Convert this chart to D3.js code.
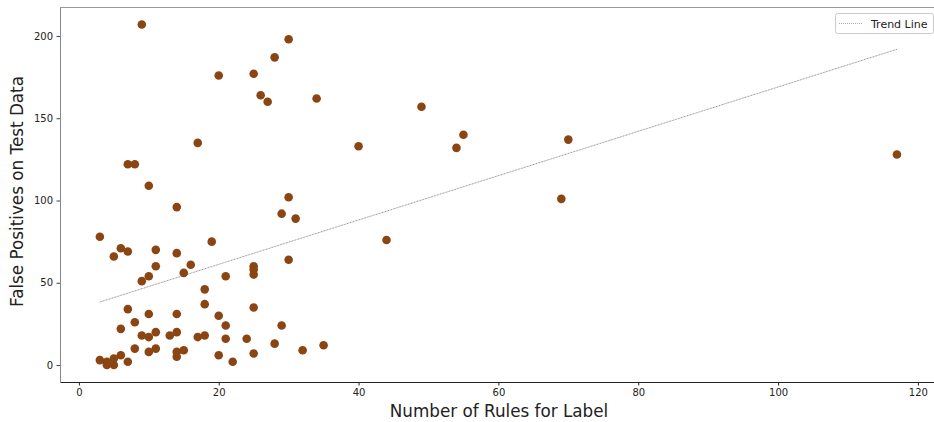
<!DOCTYPE html>
<html>
<head>
<meta charset="utf-8">
<script src="https://cdn.jsdelivr.net/npm/d3@7"></script>
<style>
  body { margin: 0; background: #fff; }
  svg { font-family: "DejaVu Sans", sans-serif; }
</style>
</head>
<body>
<svg id="chart" width="934" height="422"></svg>
<script>
// rules per label (x) and false positives (y)
const rules = [9, 30, 28, 20, 25, 26, 27, 34, 49, 17, 55, 54, 40, 70, 117,
  7, 8, 10, 69, 30, 14, 29, 31, 3, 44, 19, 6, 11, 7, 14, 5, 16, 11, 25, 25, 25,
  30, 15, 10, 21, 9, 18, 18, 7, 25, 14, 10, 20, 8, 21, 29, 6, 11, 14, 9, 13, 18,
  10, 17, 21, 24, 8, 11, 28, 35, 10, 14, 15, 32, 14, 20, 25, 6, 3, 5, 7, 22, 4, 5, 4];
const falsePos = [207, 198, 187, 176, 177, 164, 160, 162, 157, 135, 140, 132, 133, 137, 128,
  122, 122, 109, 101, 102, 96, 92, 89, 78, 76, 75, 71, 70, 69, 68, 66, 61, 60, 60, 58, 55,
  64, 56, 54, 54, 51, 46, 37, 34, 35, 31, 31, 30, 26, 24, 24, 22, 20, 20, 18, 18, 18,
  17, 17, 16, 16, 10, 10, 13, 12, 8, 8, 9, 9, 5, 6, 7, 6, 3, 4, 2, 2, 2, 0, 0];

// trend line end points as drawn
const trendX = [3, 117];
const trendY = [38.3, 191.9];

const xTicks = [0, 20, 40, 60, 80, 100, 120];
const yTicks = [0, 50, 100, 150, 200];

const svg = d3.select("#chart"),
    margin = {top: 7, right: 0, bottom: 40, left: 60},
    width = +svg.attr("width"),
    height = +svg.attr("height");

const x = d3.scaleLinear().domain([-2.7, 122.3]).range([margin.left, width - margin.right]);
const y = d3.scaleLinear().domain([-10.3, 217.6]).range([height - margin.bottom, margin.top]);

const points = rules.map(function(d, i) { return {x: d, y: falsePos[i]}; });

// x axis
const xAxis = svg.append("g")
    .attr("transform", `translate(0,${height - margin.bottom})`)
    .call(d3.axisBottom(x).tickValues(xTicks).tickSize(3.5).tickSizeOuter(0).tickPadding(3.5));
xAxis.select(".domain").attr("stroke", "#222").attr("stroke-width", 1);
xAxis.selectAll(".tick line").attr("stroke", "#222");
xAxis.selectAll("text").attr("font-size", 10).attr("fill", "#222").attr("font-family", "DejaVu Sans");

// y axis
const yAxis = svg.append("g")
    .attr("transform", `translate(${margin.left},0)`)
    .call(d3.axisLeft(y).tickValues(yTicks).tickSize(3.5).tickSizeOuter(0).tickPadding(3.5));
yAxis.select(".domain").attr("stroke", "#888").attr("stroke-width", 1);
yAxis.selectAll(".tick line").attr("stroke", "#444");
yAxis.selectAll("text").attr("font-size", 10).attr("fill", "#222").attr("font-family", "DejaVu Sans");

// top spine
svg.append("line")
    .attr("x1", margin.left).attr("x2", width)
    .attr("y1", margin.top + 0.5).attr("y2", margin.top + 0.5)
    .attr("stroke", "#999").attr("stroke-width", 1.2);

// axis titles
svg.append("text")
    .attr("x", (margin.left + width) / 2 + 2)
    .attr("y", 417)
    .attr("text-anchor", "middle")
    .attr("font-size", 16.8)
    .attr("fill", "#222")
    .text("Number of Rules for Label");

svg.append("text")
    .attr("transform", `translate(23,${(margin.top + height - margin.bottom) / 2 - 3}) rotate(-90)`)
    .attr("text-anchor", "middle")
    .attr("font-size", 16.8)
    .attr("fill", "#222")
    .text("False Positives on Test Data");

// trend line
svg.append("line")
    .attr("x1", x(trendX[0])).attr("y1", y(trendY[0]))
    .attr("x2", x(trendX[1])).attr("y2", y(trendY[1]))
    .attr("stroke", "#777")
    .attr("stroke-width", 0.8)
    .attr("stroke-dasharray", "1,0.6");

// dots
svg.selectAll("circle.pt")
  .data(points)
  .enter()
  .append("circle")
    .attr("class", "pt")
    .attr("cx", function(d) { return x(d.x); })
    .attr("cy", function(d) { return y(d.y); })
    .attr("r", 4.3)
    .attr("fill", "#8B4513");

// legend
const legend = svg.append("g").attr("transform", "translate(835,13)");
legend.append("rect")
    .attr("x", 0.5).attr("y", 0.5)
    .attr("width", 98).attr("height", 20)
    .attr("rx", 2)
    .attr("fill", "#fff")
    .attr("stroke", "#ccc");
legend.append("line")
    .attr("x1", 4).attr("x2", 27)
    .attr("y1", 10.5).attr("y2", 10.5)
    .attr("stroke", "#999")
    .attr("stroke-width", 0.8)
    .attr("stroke-dasharray", "1,1");
legend.append("text")
    .attr("x", 36).attr("y", 14.5)
    .attr("font-size", 11)
    .attr("fill", "#222")
    .text("Trend Line");
</script>
</body>
</html>
